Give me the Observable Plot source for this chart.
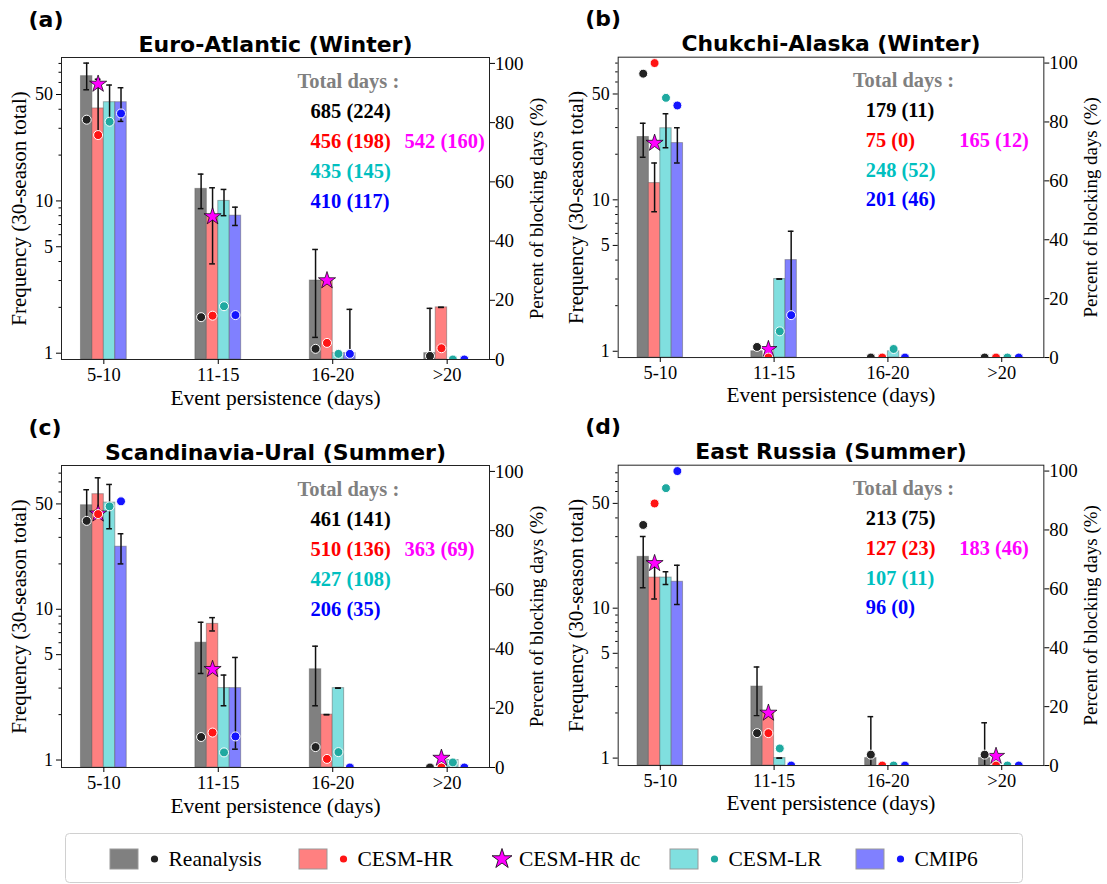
<!DOCTYPE html>
<html>
<head>
<meta charset="utf-8">
<script src="https://cdn.jsdelivr.net/npm/d3@7"></script>
<script src="https://cdn.jsdelivr.net/npm/@observablehq/plot@0.6"></script>
<style>
  body { margin: 0; background: #fff; }
  #fig { position: relative; width: 1107px; height: 884px; overflow: hidden; }
  #fig > svg, #fig > .panel { position: absolute; }
</style>
</head>
<body>
<div id="fig"></div>
<script>
// Persistence classes and series
const categories = ["5-10", "11-15", "16-20", ">20"];
const seriesNames = ["Reanalysis", "CESM-HR", "CESM-LR", "CMIP6"];
const dcName = "CESM-HR dc";

// Colours: bar fills, dot fills, text colours
const barFill = ["#808080", "#ff8080", "#80dfdf", "#8080ff"];
const dotFill = ["#222222", "#ff1414", "#1fa9a0", "#1414ff"];
const textFill = ["#000000", "#ff0000", "#00bfbf", "#0000ff"];
const dcFill = "#ff00ff";

// Axis ticks
const freqTicks = [1, 5, 10, 50];
const freqMinor = [2, 3, 4, 6, 7, 8, 9, 20, 30, 40, 60, 70, 80];
const pctTicks = [0, 20, 40, 60, 80, 100];

// Rows: Reanalysis, CESM-HR, CESM-LR, CMIP6; columns: persistence classes.
// (a) Euro-Atlantic, winter
const euroFreq = [[66, 12, 3, 1], [40.5, 8, 3, 2], [44.5, 10, 1, 0], [44.5, 8, 1, 0]];
const euroErr = [
  [[53.7, 80.4], [8.9, 15], [1.27, 4.8], [0.5, 1.97]],
  [[27.2, 63], [3.86, 12.2], [3, 3], [2, 2]],
  [[33.7, 57.7], [8, 11.9], [1, 1], null],
  [[33.3, 55.4], [6.9, 9.1], [0.5, 1.94], null]
];
const euroPct = [[81, 14.3, 3.6, 1.2], [75.8, 14.8, 5.6, 3.8], [80.3, 18, 1.9, 0], [83.1, 15, 1.9, 0]];
const euroDc = [58.6, 7.9, 3, 0];
const euroTotals = ["685 (224)", "456 (198)", "435 (145)", "410 (117)"];
const euroDcTotal = "542 (160)";

// (b) Chukchi-Alaska, winter
const chukFreq = [[26, 1, 0, 0], [12.9, 0, 0, 0], [29.7, 3, 1, 0], [23.7, 4, 0, 0]];
const chukErr = [
  [[19.1, 32], null, null, null],
  [[8.34, 17.5], null, null, null],
  [[22.1, 37], [3, 3], [1, 1], null],
  [[17.5, 29.9], [1.8, 6.2], null, null]
];
const chukPct = [[96.4, 3.6, 0, 0], [100, 0, 0, 0], [88.2, 8.9, 2.9, 0], [85.6, 14.4, 0, 0]];
const chukDc = [23.7, 1.03, 0, 0];
const chukTotals = ["179 (11)", "75 (0)", "248 (52)", "201 (46)"];
const chukDcTotal = "165 (12)";

// (c) Scandinavia-Ural, summer
const scanFreq = [[49, 6, 4, 0], [58, 8, 2, 0], [51, 3, 3, 1], [26, 3, 0, 0]];
const scanErr = [
  [[37.9, 62.1], [3.75, 8.2], [2.29, 5.69], null],
  [[45.3, 74.5], [7.18, 8.8], [2, 2], null],
  [[34.2, 67.3], [2.29, 3.66], [3, 3], [1, 1]],
  [[20, 31.7], [1.18, 4.79], null, null]
];
const scanPct = [[83.3, 10.3, 6.9, 0], [85.6, 11.8, 2.9, 0], [88.2, 5.1, 5.2, 1.7], [89.9, 10.5, 0, 0]];
const scanDc = [43, 4, 0, 1.03];
const scanTotals = ["461 (141)", "510 (136)", "427 (108)", "206 (35)"];
const scanDcTotal = "363 (69)";

// (d) East Russia, summer
const eastFreq = [[22, 3, 1, 1], [16, 2, 0, 0], [16, 1, 0, 0], [15, 0, 0, 0]];
const eastErr = [
  [[13.7, 30.1], [1.92, 4.05], [0.5, 1.89], [0.5, 1.72]],
  [[11.5, 20.5], [2, 2], null, null],
  [[14.4, 17.5], [1, 1], null, null],
  [[10.6, 19.3], null, null, null]
];
const eastPct = [[81.7, 11, 3.7, 3.7], [89, 11, 0, 0], [94.2, 5.8, 0, 0], [100, 0, 0, 0]];
const eastDc = [19.9, 2, 0, 1.03];
const eastTotals = ["213 (75)", "127 (23)", "107 (11)", "96 (0)"];
const eastDcTotal = "183 (46)";

const serif = "'Liberation Serif', 'Times New Roman', serif";
const sans = "'DejaVu Sans', sans-serif";

function drawPanel(cfg) {
  const [lo, hi] = cfg.yDomain;
  const pMax = 102;
  // the percent axis shares the frame with the log frequency axis
  const pctToY = p => lo * Math.pow(hi / lo, p / pMax);
  const offset = [-0.15, -0.05, 0.05, 0.15];
  const half = 0.05, cap = 0.025;

  const bars = [], whiskers = [], caps = [], dots = [];
  cfg.freq.forEach((row, s) => row.forEach((v, c) => {
    const x = c + offset[s];
    if (v > 0) bars.push({x1: x - half, x2: x + half, v, fill: barFill[s]});
    const e = cfg.err[s][c];
    if (e) {
      whiskers.push({x, lo: e[0], hi: e[1]});
      caps.push({x1: x - cap, x2: x + cap, y: e[0]});
      caps.push({x1: x - cap, x2: x + cap, y: e[1]});
    }
    dots.push({x, y: pctToY(cfg.pct[s][c]), fill: dotFill[s]});
  }));
  const stars = cfg.dc.map((v, c) => ({x: c + offset[1], v})).filter(d => d.v > 0);

  const totalsMarks = [
    Plot.text(["Total days :"], {frameAnchor: "top-left", dx: 236, dy: 30, textAnchor: "start", lineAnchor: "bottom",
      fill: "#808080", fontWeight: "bold", fontSize: 20.5, fontFamily: serif}),
    ...cfg.totals.map((t, i) => Plot.text([t], {frameAnchor: "top-left", dx: 249, dy: 60 + 30 * i, textAnchor: "start",
      lineAnchor: "bottom", fill: textFill[i], fontWeight: "bold", fontSize: 20.5, fontFamily: serif})),
    Plot.text([cfg.dcTotal], {frameAnchor: "top-left", dx: 343, dy: 90, textAnchor: "start", lineAnchor: "bottom",
      fill: dcFill, fontWeight: "bold", fontSize: 20.5, fontFamily: serif})
  ];

  return Plot.plot({
    width: 553,
    height: 412,
    marginTop: 57,
    marginRight: 64,
    marginBottom: 53,
    marginLeft: 61,
    style: {fontFamily: serif, fontSize: "18px", background: "transparent", overflow: "visible", color: "#000"},
    x: {domain: [-0.37, 3.37]},
    y: {type: "log", domain: [lo, hi]},
    color: {type: "identity"},
    marks: [
      Plot.rectY(bars, {x1: "x1", x2: "x2", y1: () => lo, y2: "v", fill: "fill",
        stroke: "#555", strokeOpacity: 0.45, strokeWidth: 1}),
      Plot.ruleX(whiskers, {x: "x", y1: "lo", y2: "hi", stroke: "#111", strokeWidth: 1.5, clip: true}),
      Plot.ruleY(caps, {y: "y", x1: "x1", x2: "x2", stroke: "#111", strokeWidth: 1.5, clip: true}),
      Plot.dot(stars, {x: "x", y: "v", symbol: "star", r: 5.4, fill: dcFill, stroke: "#000", strokeWidth: 0.7}),
      Plot.dot(dots, {x: "x", y: "y", r: 4.5, fill: "fill", stroke: "#fff", strokeWidth: 1, clip: true}),
      Plot.frame({stroke: "#222", strokeWidth: 1}),
      Plot.axisX({ticks: [0, 1, 2, 3], tickFormat: i => categories[i], tickSize: 5, tickPadding: 3,
        fontSize: 18.5, label: null}),
      Plot.axisY({ticks: freqMinor, tickFormat: () => "", tickSize: 2.5, label: null}),
      Plot.axisY({ticks: freqTicks, tickFormat: d => String(d), tickSize: 5, tickPadding: 3.5,
        fontSize: 18, label: null}),
      // right-hand percent axis: tick marks, then labels
      Plot.axisY({anchor: "right", ticks: pctTicks.map(pctToY), tickFormat: () => "", tickSize: 5, label: null}),
      Plot.text(pctTicks, {y: p => pctToY(p), text: p => String(p), frameAnchor: "right", dx: 5.5,
        textAnchor: "start", fontSize: 19}),
      Plot.text(["Frequency (30-season total)"], {frameAnchor: "left", dx: -42, rotate: -90,
        textAnchor: "middle", fontSize: 21}),
      Plot.text(["Percent of blocking days (%)"], {frameAnchor: "right", dx: 47, rotate: -90,
        textAnchor: "middle", fontSize: 19}),
      Plot.text(["Event persistence (days)"], {frameAnchor: "bottom", dy: 45, lineAnchor: "bottom", fontSize: 21.5}),
      Plot.text([cfg.title], {frameAnchor: "top", dy: -6, lineAnchor: "bottom", fontFamily: sans,
        fontWeight: "bold", fontSize: 22}),
      Plot.text([cfg.letter], {frameAnchor: "top-left", dx: -33, dy: -31, textAnchor: "start",
        lineAnchor: "bottom", fontFamily: sans, fontWeight: "bold", fontSize: 22}),
      ...totalsMarks
    ]
  });
}

const panels = [
  {letter: "(a)", title: "Euro-Atlantic (Winter)", freq: euroFreq, err: euroErr, pct: euroPct, dc: euroDc,
   totals: euroTotals, dcTotal: euroDcTotal, yDomain: [0.909, 87.5], left: 0, top: 0},
  {letter: "(b)", title: "Chukchi-Alaska (Winter)", freq: chukFreq, err: chukErr, pct: chukPct, dc: chukDc,
   totals: chukTotals, dcTotal: chukDcTotal, yDomain: [0.909, 87.5], left: 557, top: 0},
  {letter: "(c)", title: "Scandinavia-Ural (Summer)", freq: scanFreq, err: scanErr, pct: scanPct, dc: scanDc,
   totals: scanTotals, dcTotal: scanDcTotal, yDomain: [0.892, 89.9], left: 0, top: 408},
  {letter: "(d)", title: "East Russia (Summer)", freq: eastFreq, err: eastErr, pct: eastPct, dc: eastDc,
   totals: eastTotals, dcTotal: eastDcTotal, yDomain: [0.892, 89.9], left: 557, top: 408}
];

const fig = document.getElementById("fig");
for (const p of panels) {
  const wrap = document.createElement("div");
  wrap.className = "panel";
  wrap.style.left = p.left + "px";
  wrap.style.top = p.top + "px";
  wrap.appendChild(drawPanel(p));
  fig.appendChild(wrap);
}

// Legend box along the bottom
const legend = d3.select(fig).append("svg")
  .attr("width", 1107).attr("height", 59)
  .style("left", "0px").style("top", "825px");
legend.append("rect").attr("x", 65.5).attr("y", 8.5).attr("width", 957).attr("height", 49)
  .attr("rx", 4).attr("fill", "#fff").attr("stroke", "#d0d0d0");

const legendItems = [
  {name: seriesNames[0], bar: barFill[0], dot: dotFill[0], x: 110},
  {name: seriesNames[1], bar: barFill[1], dot: dotFill[1], x: 299},
  {name: dcName, star: dcFill, x: 490},
  {name: seriesNames[2], bar: barFill[2], dot: dotFill[2], x: 670},
  {name: seriesNames[3], bar: barFill[3], dot: dotFill[3], x: 856}
];
const cy = 34;
for (const it of legendItems) {
  const g = legend.append("g");
  if (it.star) {
    g.append("path").attr("d", d3.symbol(d3.symbolStar, 124)())
      .attr("transform", `translate(${it.x + 12},${cy})`)
      .attr("fill", it.star).attr("stroke", "#000").attr("stroke-width", 0.8);
    g.append("text").attr("x", it.x + 29).attr("y", cy + 7).text(it.name)
      .attr("font-family", serif).attr("font-size", 21.5).attr("fill", "#000");
  } else {
    g.append("rect").attr("x", it.x).attr("y", cy - 10).attr("width", 28).attr("height", 20)
      .attr("fill", it.bar).attr("stroke", "#999").attr("stroke-width", 1);
    g.append("circle").attr("cx", it.x + 44.5).attr("cy", cy).attr("r", 3.6).attr("fill", it.dot);
    g.append("text").attr("x", it.x + 58.5).attr("y", cy + 7).text(it.name)
      .attr("font-family", serif).attr("font-size", 21.5).attr("fill", "#000");
  }
}
</script>
</body>
</html>
